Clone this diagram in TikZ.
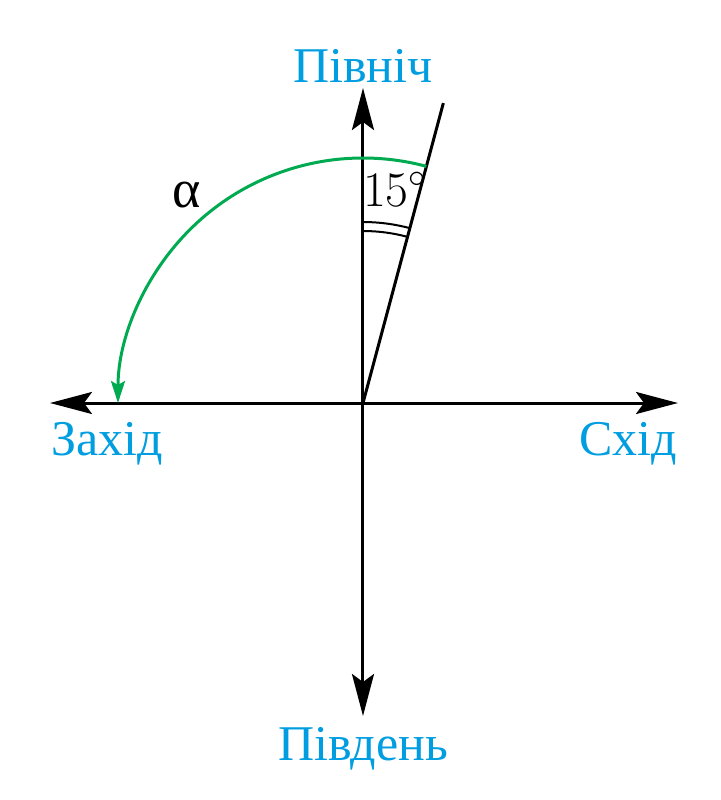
\documentclass[tikz,border=0pt]{standalone}
\usepackage{fontspec}
\newfontfamily\cyr{Liberation Serif}
\usetikzlibrary{arrows.meta}
\definecolor{lblue}{RGB}{0,158,224}
\definecolor{lgreen}{RGB}{0,170,80}
\tikzset{
  axis/.style={line width=1.5pt, {Stealth[length=21pt,width=11pt,inset=4pt]}-{Stealth[length=21pt,width=11pt,inset=4pt]}},
  dirlabel/.style={anchor=base, text=lblue, inner sep=0pt, font=\cyr\fontsize{25}{30}\selectfont},
}
\begin{document}
\begin{tikzpicture}[x=0.5pt,y=0.5pt]
\useasboundingbox (-363,-397) rectangle (357,403);
\coordinate (O) at (0,0);
\coordinate (N) at (0,315);
\coordinate (S) at (0,-313);
\coordinate (W) at (-313,0);
\coordinate (E) at (315,0);
\coordinate (R) at (75:310.5);
\coordinate (A) at (75:245);
\draw[axis] (W) -- (E);
\draw[axis] (S) -- (N);
\draw[line width=1.5pt] (O) -- (R);
\draw[line width=1pt] (75:172) arc[start angle=75,end angle=90,radius=172];
\draw[line width=1pt] (75:181) arc[start angle=75,end angle=90,radius=181];
\draw[lgreen, line width=1.5pt, -{Stealth[length=11pt,width=7pt,inset=2pt]}] (A) arc[start angle=75,end angle=180,radius=245];
\node[dirlabel] (nN) at (0,321) {Північ};
\node[dirlabel] (nS) at (0,-357) {Південь};
\node[dirlabel] (nW) at (-256,-52) {Захід};
\node[dirlabel] (nE) at (265,-52) {Схід};
\node[anchor=base, inner sep=0pt, font=\fontsize{23}{28}\selectfont] (ang) at (32,197) {$15^\circ$};
\node[anchor=base, inner sep=0pt, font=\cyr\fontsize{27}{30}\selectfont] (al) at (-176,196) {α};
\end{tikzpicture}
\end{document}
